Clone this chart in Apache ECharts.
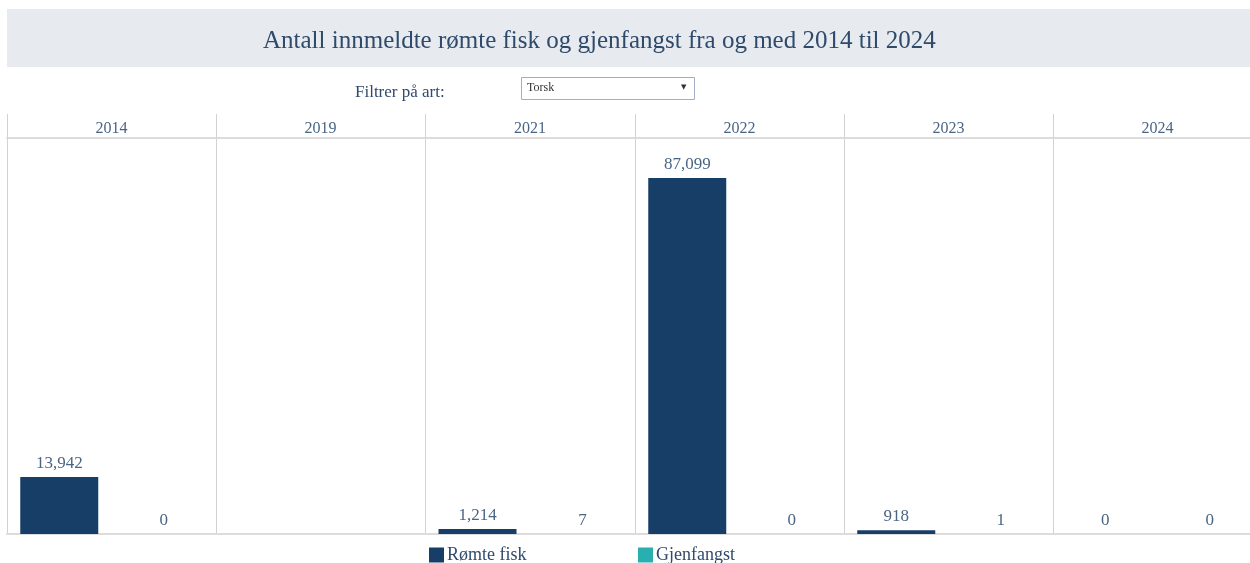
<!DOCTYPE html>
<html>
<head>
<meta charset="utf-8">
<script src="https://cdn.jsdelivr.net/npm/echarts@6/dist/echarts.min.js"></script>
<style>
html,body{margin:0;padding:0;background:#fff;overflow:hidden;width:1250px;height:563px;}
#c{width:1262px;height:563px;}
</style>
</head>
<body>
<div id="c"></div>
<script>
var years = ['2014', '2019', '2021', '2022', '2023', '2024'];
var measures = ['Rømte fisk', 'Gjenfangst'];
var romteFisk = [13942, null, 1214, 87099, 918, 0];
var gjenfangst = [0, null, 7, 0, 1, 0];

var SERIF = '"Liberation Serif", "DejaVu Serif", serif';
var textColor = '#4a6584';
var titleColor = '#2f4a6b';
var colRomte = '#173e67';
var colGjen = '#2aafb0';

var chart = echarts.init(document.getElementById('c'), null, {renderer: 'canvas'});

var grids = [], xAxes = [], yAxes = [], series = [];
function fmt(p) { return Number(p.value).toLocaleString('en-US'); }
var PW = 209.2;
for (var i = 0; i < years.length; i++) {
  var L = Math.round(7 + PW * i);
  var W = Math.round(7 + PW * (i + 1)) - L;
  grids.push({left: L, width: W, top: 138, bottom: 29, containLabel: false});
  xAxes.push({
    type: 'category', gridIndex: i, position: 'bottom', data: measures,
    axisLine: {show: true, lineStyle: {color: '#dcdcdc', width: 2}},
    axisTick: {show: false}, axisLabel: {show: false}, splitLine: {show: false}
  });
  xAxes.push({
    type: 'category', gridIndex: i, position: 'top', data: [years[i]],
    axisLine: {show: true, lineStyle: {color: '#dcdcdc', width: 2}},
    axisTick: {show: true, length: 24, lineStyle: {color: '#d2d2d2', width: 1}},
    axisLabel: {show: true, margin: 1, color: textColor, fontFamily: SERIF, fontSize: 16},
    splitLine: {show: false}
  });
  yAxes.push({
    type: 'value', gridIndex: i, min: 0, max: 96900,
    axisLine: {show: true, lineStyle: {color: '#d2d2d2', width: 1}},
    axisTick: {show: false}, axisLabel: {show: false}, splitLine: {show: false}
  });
  var lbl = {show: true, position: 'top', distance: 5, color: textColor, fontFamily: SERIF, fontSize: 17, formatter: fmt};
  series.push({
    name: 'Rømte fisk', type: 'bar', xAxisIndex: 2 * i, yAxisIndex: i,
    barWidth: 78, barGap: '-100%', itemStyle: {color: colRomte}, label: lbl,
    data: [romteFisk[i] === null ? '-' : romteFisk[i], '-']
  });
  series.push({
    name: 'Gjenfangst', type: 'bar', xAxisIndex: 2 * i, yAxisIndex: i,
    barWidth: 78, barGap: '-100%', itemStyle: {color: colGjen}, label: lbl,
    data: ['-', gjenfangst[i] === null ? '-' : gjenfangst[i]]
  });
}

var legendCommon = {
  top: 546, padding: 0, orient: 'horizontal', icon: 'rect', itemWidth: 15, itemHeight: 15, itemGap: 10,
  textStyle: {color: titleColor, fontFamily: SERIF, fontSize: 18, padding: [0, 0, 0, -2]}, selectedMode: false
};

chart.setOption({
  backgroundColor: '#ffffff',
  animation: false,
  title: {
    text: 'Antall innmeldte rømte fisk og gjenfangst fra og med 2014 til 2024',
    left: 263, top: 29, padding: 0,
    textStyle: {color: titleColor, fontFamily: SERIF, fontSize: 25, fontWeight: 'normal'}
  },
  legend: [
    Object.assign({left: 429, data: ['Rømte fisk']}, legendCommon),
    Object.assign({left: 638, data: ['Gjenfangst']}, legendCommon)
  ],
  graphic: [
    {type: 'rect', z: -10, shape: {x: 7, y: 9, width: 1255, height: 58}, style: {fill: '#e7eaef'}},
    {type: 'text', left: 355, top: 84, style: {text: 'Filtrer på art:', fill: titleColor, font: '17px ' + SERIF}},
    {type: 'rect', shape: {x: 521.5, y: 77.5, width: 173, height: 22}, style: {fill: '#ffffff', stroke: '#9fb0c4', lineWidth: 1}},
    {type: 'text', left: 527, top: 82, style: {text: 'Torsk', fill: '#333333', font: '12px ' + SERIF}},
    {type: 'text', left: 681, top: 84, style: {text: '▼', fill: '#333333', font: '7px "DejaVu Sans", sans-serif'}}
  ],
  grid: grids,
  xAxis: xAxes,
  yAxis: yAxes,
  series: series
});
</script>
</body>
</html>
